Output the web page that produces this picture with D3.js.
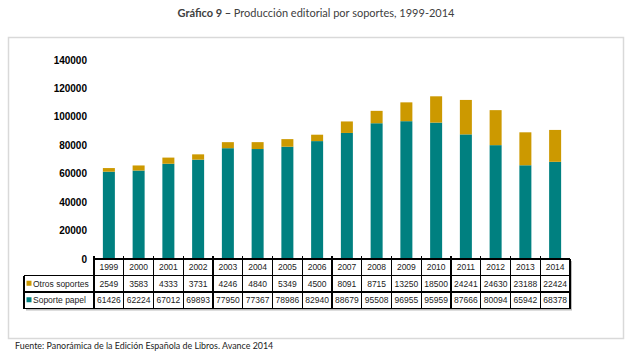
<!DOCTYPE html>
<html>
<head>
<meta charset="utf-8">
<script src="https://d3js.org/d3.v7.min.js"></script>
<style>
body{margin:0;background:#fff;}
svg{display:block;}
</style>
</head>
<body>
<svg id="chart" width="632" height="355"></svg>
<script>
// data
var years = ['1999','2000','2001','2002','2003','2004','2005','2006','2007','2008','2009','2010','2011','2012','2013','2014'];
var papel = [61426,62224,67012,69893,77950,77367,78986,82940,88679,95508,96955,95959,87666,80094,65942,68378];
var otros = [2549,3583,4333,3731,4246,4840,5349,4500,8091,8715,13250,18500,24241,24630,23188,22424];
var yTicks = [0,20000,40000,60000,80000,100000,120000,140000];
var seriesNames = ['Otros soportes','Soporte papel'];
var colors = {papel:'#008080', otros:'#CC9900'};

var svg = d3.select('#chart');

// title
var title = svg.append('text')
	.attr('x',316).attr('y',17)
	.attr('text-anchor','middle')
	.style('font-family','Lato, "Open Sans", sans-serif')
	.style('font-size','11px')
	.style('fill','#404040');
title.append('tspan').style('font-weight','bold').text('Gráfico 9 – ');
title.append('tspan').text('Producción editorial por soportes, 1999-2014');

// outer frame
svg.append('rect')
	.attr('x',8.5).attr('y',37.5)
	.attr('width',615).attr('height',301)
	.attr('fill','none')
	.attr('stroke','#d9d9d9')
	.attr('stroke-width',1.5);

// footer
svg.append('text')
	.attr('x',15).attr('y',349)
	.style('font-family','Lato, "Open Sans", sans-serif')
	.style('font-size','8.9px')
	.style('fill','#222')
	.text('Fuente: Panorámica de la Edición Española de Libros. Avance 2014');

var left = 94, right = 570;
var x = d3.scaleBand().domain(years).range([left,right]).paddingInner(0).paddingOuter(0);
var y = d3.scaleLinear().domain([0,140000]).range([259,60]);

// y axis labels
svg.append('g').selectAll('text').data(yTicks).enter()
	.append('text')
	.attr('x',87)
	.attr('y',function(d){return y(d)+3.5})
	.attr('text-anchor','end')
	.style('font-family','Arial, "Liberation Sans", sans-serif')
	.style('font-weight','bold')
	.style('font-size','10px')
	.style('fill','#000')
	.text(function(d){return d});

// stacked bars
var barW = 12;
var data = years.map(function(yr,i){return {year:yr, papel:papel[i], otros:otros[i]}});
var stack = d3.stack().keys(['papel','otros'])(data);
svg.append('g').selectAll('g').data(stack).enter()
	.append('g')
	.attr('fill',function(s){return colors[s.key]})
	.selectAll('rect').data(function(s){return s}).enter()
	.append('rect')
		.attr('x',function(d){return x(d.data.year) + x.bandwidth()/2 - barW/2})
		.attr('y',function(d){return y(d[1])})
		.attr('width',barW)
		.attr('height',function(d){return y(d[0]) - y(d[1])});

// data table
var rowTop = 259, rowH = 16.5;
var labelLeft = 24;
var tbl = svg.append('g')
	.style('font-family','Arial, "Liberation Sans", sans-serif')
	.style('font-size','8.5px')
	.style('fill','#222');

// shadow
tbl.append('rect')
	.attr('x',left+2).attr('y',rowTop+2)
	.attr('width',right-left).attr('height',rowH*3)
	.attr('fill','#bbb');
tbl.append('rect')
	.attr('x',labelLeft+2).attr('y',rowTop+rowH+2)
	.attr('width',left-labelLeft).attr('height',rowH*2)
	.attr('fill','#bbb');
tbl.append('rect')
	.attr('x',left).attr('y',rowTop)
	.attr('width',right-left).attr('height',rowH*3)
	.attr('fill','#fff');
tbl.append('rect')
	.attr('x',labelLeft).attr('y',rowTop+rowH)
	.attr('width',left-labelLeft).attr('height',rowH*2)
	.attr('fill','#fff');

var lineStyle = function(sel){
	return sel.attr('stroke','#000').attr('stroke-width',1.2).attr('shape-rendering','crispEdges');
};
// horizontal lines
[0,1,2,3].forEach(function(r){
	lineStyle(tbl.append('line')
		.attr('x1', r==0 ? left : labelLeft).attr('x2',right)
		.attr('y1',rowTop+r*rowH).attr('y2',rowTop+r*rowH));
});
// vertical lines
lineStyle(tbl.append('line').attr('x1',labelLeft).attr('x2',labelLeft)
	.attr('y1',rowTop+rowH).attr('y2',rowTop+3*rowH));
years.forEach(function(yr){
	lineStyle(tbl.append('line').attr('x1',x(yr)).attr('x2',x(yr))
		.attr('y1',rowTop-3).attr('y2',rowTop+3*rowH));
});
lineStyle(tbl.append('line').attr('x1',right).attr('x2',right)
	.attr('y1',rowTop).attr('y2',rowTop+3*rowH));

var rows = [years, otros, papel];
rows.forEach(function(vals,r){
	tbl.append('g').selectAll('text').data(vals).enter()
		.append('text')
		.attr('x',function(d,i){return x(years[i]) + x.bandwidth()/2})
		.attr('y',rowTop + r*rowH + rowH/2 + 3)
		.attr('text-anchor','middle')
		.text(function(d){return d});
});

// row labels with swatches
var swCol = [colors.otros, colors.papel];
seriesNames.forEach(function(name,i){
	var cy = rowTop + (i+1)*rowH + rowH/2;
	tbl.append('rect')
		.attr('x',labelLeft+2.5).attr('y',cy-3)
		.attr('width',5).attr('height',5)
		.attr('fill',swCol[i]);
	tbl.append('text')
		.attr('x',labelLeft+9).attr('y',cy+3)
		.text(name);
});
</script>
</body>
</html>
